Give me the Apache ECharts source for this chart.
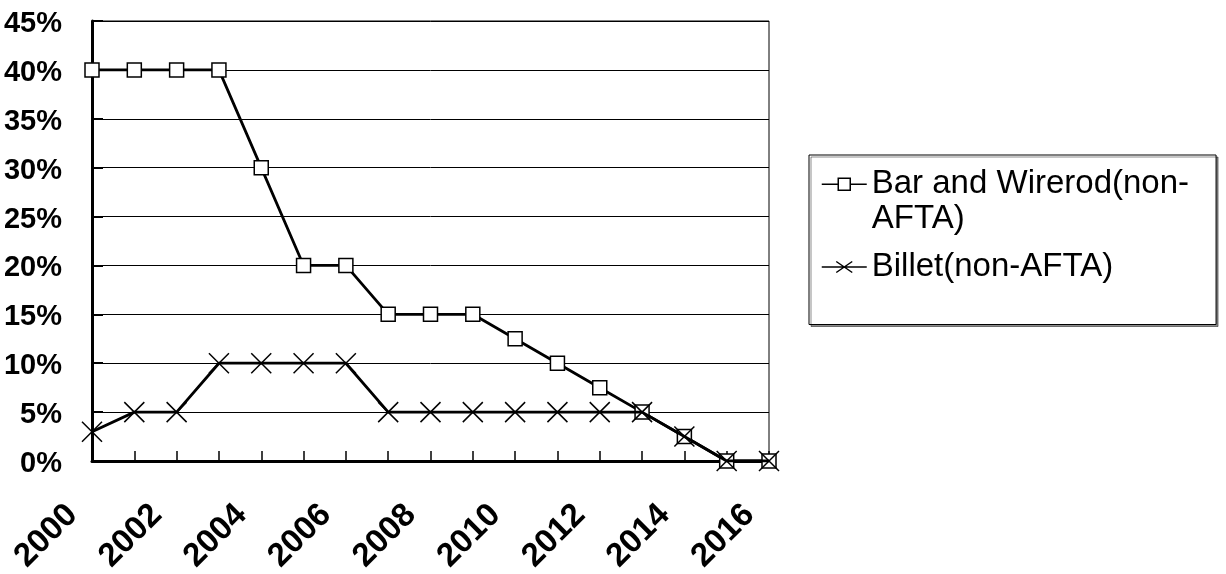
<!DOCTYPE html>
<html>
<head>
<meta charset="utf-8">
<title>Tariff schedule: Bar and Wirerod vs Billet</title>
<script src="https://cdn.jsdelivr.net/npm/echarts@6/dist/echarts.min.js"></script>
<style>
  html, body { margin: 0; padding: 0; background: #fff; }
  #chart { width: 1226px; height: 574px; }
</style>
</head>
<body>
<div id="chart"></div>
<script>
// Years on the category axis
const years = ['2000', '2001', '2002', '2003', '2004', '2005', '2006', '2007', '2008',
               '2009', '2010', '2011', '2012', '2013', '2014', '2015', '2016'];

// Tariff rates in percent
const barWirerod = [40, 40, 40, 40, 30, 20, 20, 15, 15, 15, 12.5, 10, 7.5, 5, 2.5, 0, 0];
const billet     = [3, 5, 5, 10, 10, 10, 10, 5, 5, 5, 5, 5, 5, 5, 2.5, 0, 0];

// Series names
const nameBar = 'Bar and Wirerod(non-AFTA)';
const nameBillet = 'Billet(non-AFTA)';

const FONT = '"Liberation Sans", Arial, sans-serif';
const crossSymbol = 'path://M0,0L1,1M1,0L0,1';

// Legend icons. The first entry wraps onto two lines, so its icon box is two
// lines tall (the leading moves fix that box) with the glyph on the top line.
const LEGEND_ICON_W = 45;
const LEGEND_ICON_H = 70;
const legendIconBar =
  'path://M0,0M45,70' +
  'M0,17.5L16.5,17.5M28.5,17.5L45,17.5' +
  'M16.5,11.5L28.5,11.5L28.5,23.5L16.5,23.5Z';
const legendIconBillet =
  'path://M0,5.5L45,5.5M14.5,0L30.5,11M30.5,0L14.5,11';

const chart = echarts.init(document.getElementById('chart'), null, { renderer: 'canvas' });

chart.setOption({
  animation: false,
  backgroundColor: '#fff',
  grid: {
    left: 92, right: 457, top: 21, bottom: 113,
    containLabel: false,
    outerBoundsMode: 'none',
    show: true,
    borderColor: '#000',
    borderWidth: 1,
    backgroundColor: 'transparent'
  },
  legend: {
    orient: 'vertical',
    left: 809,
    top: 155,
    padding: [11, 27, 40, 12],
    itemWidth: LEGEND_ICON_W,
    itemHeight: LEGEND_ICON_H,
    itemGap: 12,
    backgroundColor: '#fff',
    borderColor: '#000',
    borderWidth: 1,
    shadowColor: 'rgba(0,0,0,0.45)',
    shadowOffsetX: 2,
    shadowOffsetY: 2,
    shadowBlur: 0,
    textStyle: {
      fontFamily: FONT,
      fontSize: 33,
      color: '#000',
      lineHeight: 35
    },
    formatter: function (name) {
      return name === nameBar ? 'Bar and Wirerod(non-\nAFTA)' : name;
    },
    data: [
      {
        name: nameBar,
        icon: legendIconBar,
        itemStyle: { color: '#fff', borderColor: '#000', borderWidth: 1.5 }
      },
      {
        name: nameBillet,
        icon: legendIconBillet,
        itemStyle: { color: '#000', borderColor: '#000', borderWidth: 1.5 }
      }
    ]
  },
  xAxis: {
    type: 'category',
    data: years,
    boundaryGap: false,
    axisLine: { show: true, lineStyle: { color: '#000', width: 3 } },
    axisTick: { show: true, inside: true, length: 10, interval: 0, lineStyle: { color: '#000', width: 1.5 } },
    splitLine: { show: false },
    axisLabel: {
      interval: 1,
      rotate: 45,
      margin: 29,
      padding: [0, 28, 0, 0],
      fontFamily: FONT,
      fontWeight: 'bold',
      fontSize: 33,
      color: '#000'
    }
  },
  yAxis: {
    type: 'value',
    min: 0,
    max: 45,
    interval: 5,
    axisLine: { show: true, lineStyle: { color: '#000', width: 3 } },
    axisTick: { show: true, inside: true, length: 11, lineStyle: { color: '#000', width: 2 } },
    splitLine: { show: true, lineStyle: { color: '#000', width: 1 } },
    axisLabel: {
      formatter: '{p|{value}%}',
      margin: 30,
      rich: {
        p: {
          fontFamily: FONT,
          fontWeight: 'bold',
          fontSize: 29,
          color: '#000',
          padding: [6, 0, 0, 0]
        }
      }
    }
  },
  series: [
    {
      name: nameBar,
      type: 'line',
      data: barWirerod,
      symbol: 'rect',
      symbolSize: 14,
      showAllSymbol: true,
      lineStyle: { color: '#000', width: 2.8 },
      itemStyle: { color: '#fff', borderColor: '#000', borderWidth: 1.5 },
      z: 2
    },
    {
      name: nameBillet,
      type: 'line',
      data: billet,
      symbol: crossSymbol,
      symbolSize: 20,
      showAllSymbol: true,
      lineStyle: { color: '#000', width: 2.8 },
      itemStyle: { color: '#000', borderColor: '#000', borderWidth: 1.5 },
      z: 3
    }
  ]
});
</script>
</body>
</html>
